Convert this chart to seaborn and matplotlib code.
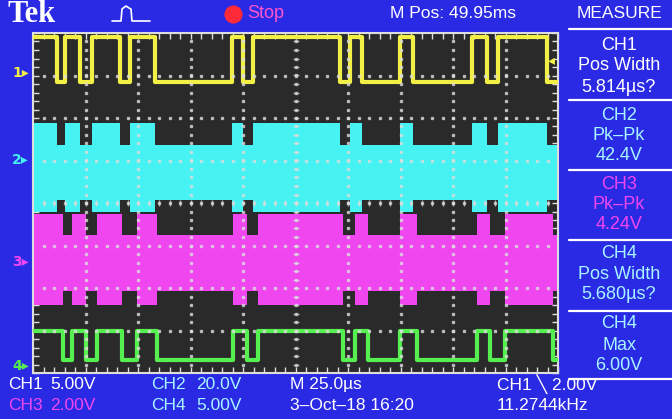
import matplotlib
matplotlib.use("Agg")
import numpy as np
import pandas as pd
import matplotlib.pyplot as plt
import seaborn as sns
from matplotlib.lines import Line2D

sns.set_theme(style="dark")
plt.rcParams['font.family'] = ['Liberation Sans', 'DejaVu Sans']

# ---------------- data (time in microseconds, 25 us/div, 10 divisions) ----------------
t_ch1 = [0.0, 11.4, 15.2, 22.4, 28.1, 41.4, 46.2, 58.1, 94.8, 100.0, 104.8,
         146.2, 151.0, 156.7, 174.8, 181.0, 209.0, 216.2, 221.4, 244.8, 250.0]
logic_ch1 = [1, 0, 1, 0, 1, 0, 1, 0, 1, 0, 1, 0, 1, 0, 1, 0, 1, 0, 1, 0]

t_ch4 = [0.0, 14.3, 18.6, 25.2, 30.5, 42.4, 49.5, 59.0, 95.2, 101.9, 107.1,
         147.6, 153.3, 159.5, 174.8, 182.9, 211.4, 217.6, 224.8, 247.6, 250.0]
logic_ch4 = [1, 0, 1, 0, 1, 0, 1, 0, 1, 0, 1, 0, 1, 0, 1, 0, 1, 0, 1, 0]

# levels in volts: (low state, high state)
ch1_level = (-0.75, 4.5)
ch2_top = (7.2, 17.6)
ch2_bottom = (-18.6, -24.2)
ch3_top = (1.3, 2.28)
ch3_bottom = (-1.34, -2.0)
ch4_level = (1.25, 4.7)

volts_per_div = {"CH1": 5.0, "CH2": 20.0, "CH3": 2.0, "CH4": 5.0}
ground_div = {"CH1": 7.0, "CH2": 5.0, "CH3": 2.6, "CH4": 0.05}

measure_labels = [("CH1", "Pos Width", "5.814\u00b5s?"),
                  ("CH2", "Pk\u2013Pk", "42.4V"),
                  ("CH3", "Pk\u2013Pk", "4.24V"),
                  ("CH4", "Pos Width", "5.680\u00b5s?"),
                  ("CH4", "Max", "6.00V")]

# ---------------- colours ----------------
BLUE = "#2a2ae4"
SCREEN = "#2a2a2a"
YELLOW = "#f2f046"
CYAN = "#46f2f2"
MAGENTA = "#f046f0"
GREEN = "#55f050"
TXT_CYAN = "#a8f4ff"
GRID = "#dddddd"
FS = 12.5

W, H = 672, 419


def fx(x):
    return x / W


def fy(y):
    return 1 - y / H


def to_div(ch, volts):
    return ground_div[ch] + np.asarray(volts, dtype=float) / volts_per_div[ch]


def step_series(ch, edges, logic, levels):
    v = [levels[s] for s in logic]
    v = v + [v[-1]]
    return pd.DataFrame({"t": edges, "div": to_div(ch, v)})


fig = plt.figure(figsize=(6.72, 4.19), dpi=100, facecolor=BLUE)
ax = fig.add_axes([fx(33), fy(373), (558 - 33) / W, (373 - 33) / H])
ax.set_facecolor(SCREEN)
ax.set_xlim(0, 250)
ax.set_ylim(0, 8)

# CH2 band (cyan)
top2 = step_series("CH2", t_ch1, logic_ch1, ch2_top)
bot2 = step_series("CH2", t_ch1, logic_ch1, ch2_bottom)
ax.fill_between(top2["t"], bot2["div"], top2["div"], step="post", color=CYAN, lw=0, zorder=2)

# CH3 band (magenta)
top3 = step_series("CH3", t_ch4, logic_ch4, ch3_top)
bot3 = step_series("CH3", t_ch4, logic_ch4, ch3_bottom)
ax.fill_between(top3["t"], bot3["div"], top3["div"], step="post", color=MAGENTA, lw=0, zorder=2)

# CH1 and CH4 digital traces
df1 = step_series("CH1", t_ch1, logic_ch1, ch1_level)
df4 = step_series("CH4", t_ch4, logic_ch4, ch4_level)
sns.lineplot(data=df1, x="t", y="div", ax=ax, color=YELLOW, lw=3.0,
             drawstyle="steps-post", estimator=None, sort=False, zorder=3)
sns.lineplot(data=df4, x="t", y="div", ax=ax, color=GREEN, lw=3.0,
             drawstyle="steps-post", estimator=None, sort=False, zorder=3)

# graticule dots
for k in range(1, 10):
    ys = np.arange(0.2, 8.0, 0.2)
    ax.plot(np.full_like(ys, 25 * k), ys, ls="", marker="s", ms=1.6,
            color=GRID, alpha=0.7, zorder=5)
for k in range(1, 8):
    xs = np.arange(5, 250, 5)
    ax.plot(xs, np.full_like(xs, k, dtype=float), ls="", marker="s", ms=1.6,
            color=GRID, alpha=0.7, zorder=5)
# centre cross ticks
ys = np.arange(0.2, 8.0, 0.2)
ax.plot(np.full_like(ys, 125), ys, ls="", marker="_", ms=5, mew=1.0, color=GRID, alpha=0.7, zorder=5)
xs = np.arange(5, 250, 5)
ax.plot(xs, np.full_like(xs, 4, dtype=float), ls="", marker="|", ms=5, mew=1.0, color=GRID, alpha=0.7, zorder=5)

ax.set_xticks(np.arange(0, 251, 5))
ax.set_yticks(np.arange(0, 8.01, 0.2))
ax.tick_params(which="both", direction="in", length=4, width=1, color=GRID,
               bottom=True, top=True, left=True, right=True,
               labelbottom=False, labelleft=False)
ax.set_xlabel("")
ax.set_ylabel("")
ax.grid(False)
for s in ax.spines.values():
    s.set_visible(True)
    s.set_color(GRID)
    s.set_linewidth(1.5)

# channel ground markers
for label, ypx, col in [("1", 73, YELLOW), ("2", 160, CYAN), ("3", 262, MAGENTA), ("4", 366, GREEN)]:
    fig.text(fx(12), fy(ypx), label + "\u25b8", color=col, fontsize=10, va="center", ha="left",
             family=["DejaVu Sans"], fontweight="bold")

# trigger level marker
fig.text(fx(548), fy(60), "\u25c2", color=YELLOW, fontsize=10, va="center", ha="left", family=["DejaVu Sans"])

# header
fig.text(fx(8), fy(14), "Tek", color="white", fontsize=22, fontweight="bold",
         family=["Liberation Serif", "DejaVu Serif"], va="center", ha="left")
icon = Line2D([fx(112), fx(121), fx(122), fx(126), fx(129), fx(131), fx(132), fx(150)],
              [fy(21), fy(21), fy(9), fy(6), fy(8), fy(9), fy(21), fy(21)],
              transform=fig.transFigure, color="white", lw=1.2)
fig.add_artist(icon)
fig.add_artist(Line2D([fx(233)], [fy(14)], transform=fig.transFigure, marker="o", ms=13,
                      color="#ff2a3a", mew=0))
fig.text(fx(247), fy(14), "Stop", color="#ff55cc", fontsize=FS + 0.5, va="center", ha="left")
fig.text(fx(390), fy(14), "M Pos: 49.95ms", color="white", fontsize=FS, va="center", ha="left")
fig.text(fx(619), fy(14), "MEASURE", color="white", fontsize=FS, va="center", ha="center")

# measurement panel
for ypx in [29, 100, 170, 240, 311, 379]:
    fig.add_artist(Line2D([fx(569), fx(672)], [fy(ypx), fy(ypx)], transform=fig.transFigure,
                          color="white", lw=1.6))
box_y = [(45, 66, 87), (115, 135, 155), (184, 204, 224), (253, 274, 294), (324, 345, 365)]
box_col = ["white", TXT_CYAN, MAGENTA, TXT_CYAN, TXT_CYAN]
for (l1, l2, l3), (y1, y2, y3), c in zip(measure_labels, box_y, box_col):
    for txt, yy in [(l1, y1), (l2, y2), (l3, y3)]:
        fig.text(fx(619), fy(yy), txt, color=c, fontsize=FS + 0.5, va="center", ha="center")

# bottom status lines
row1, row2 = 384, 405
fig.text(fx(8), fy(row1), "CH1", color="white", fontsize=FS, va="center")
fig.text(fx(50), fy(row1), "5.00V", color="white", fontsize=FS, va="center")
fig.text(fx(151), fy(row1), "CH2", color=TXT_CYAN, fontsize=FS, va="center")
fig.text(fx(196), fy(row1), "20.0V", color=TXT_CYAN, fontsize=FS, va="center")
fig.text(fx(290), fy(row1), "M 25.0\u00b5s", color="white", fontsize=FS, va="center")
fig.text(fx(497), fy(row1), "CH1 \u2572 2.00V", color="white", fontsize=FS, va="center")
fig.text(fx(8), fy(row2), "CH3", color=MAGENTA, fontsize=FS, va="center")
fig.text(fx(50), fy(row2), "2.00V", color=MAGENTA, fontsize=FS, va="center")
fig.text(fx(151), fy(row2), "CH4", color=TXT_CYAN, fontsize=FS, va="center")
fig.text(fx(196), fy(row2), "5.00V", color=TXT_CYAN, fontsize=FS, va="center")
fig.text(fx(290), fy(row2), "3\u2013Oct\u201318 16:20", color="white", fontsize=FS, va="center")
fig.text(fx(497), fy(row2), "11.2744kHz", color="white", fontsize=FS, va="center")

fig.savefig("out.png", dpi=100, facecolor=BLUE)
